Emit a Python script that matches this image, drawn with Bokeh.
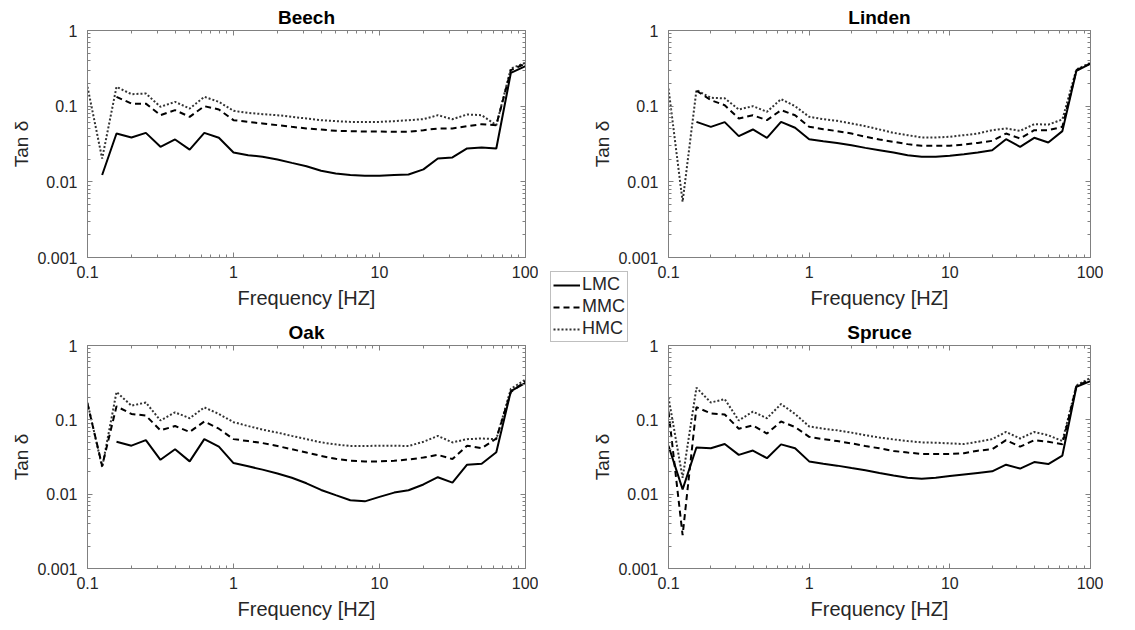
import numpy as np
from bokeh.plotting import figure
from bokeh.models import Range1d, FixedTicker, LogAxis, GridBox, Legend, LegendItem
from bokeh.embed import file_html
from bokeh.resources import INLINE

nan = float("nan")

# ---------------- data ----------------
freq = [0.1, 0.126, 0.158, 0.2, 0.251, 0.316, 0.398, 0.501, 0.631, 0.794,
        1.0, 1.26, 1.58, 2.0, 2.51, 3.16, 3.98, 5.01, 6.31, 7.94,
        10.0, 12.6, 15.8, 20.0, 25.1, 31.6, 39.8, 50.1, 63.1, 79.4, 100.0]

beech_lmc = [nan, 0.0123, 0.0435, 0.0386, 0.0444, 0.029, 0.0363, 0.0267, 0.0444, 0.0382,
             0.0244, 0.0225, 0.0214, 0.0197, 0.0178, 0.0161, 0.014, 0.0129, 0.0123, 0.012,
             0.012, 0.0123, 0.0125, 0.0146, 0.0203, 0.021, 0.0276, 0.0284, 0.0276, 0.276, 0.338]
beech_mmc = [nan, nan, 0.133, 0.108, 0.108, 0.076, 0.0886, 0.0723, 0.1, 0.0904,
             0.0653, 0.062, 0.059, 0.0561, 0.0533, 0.0507, 0.0492, 0.0472, 0.0467, 0.0463,
             0.0463, 0.0458, 0.0458, 0.0482, 0.0507, 0.0507, 0.0544, 0.0578, 0.0561, 0.299, 0.366]
beech_hmc = [0.18, 0.0203, 0.18, 0.144, 0.147, 0.098, 0.114, 0.093, 0.133, 0.114,
             0.0868, 0.0816, 0.0784, 0.076, 0.0723, 0.0687, 0.0653, 0.0634, 0.062, 0.062,
             0.062, 0.0634, 0.0653, 0.0673, 0.076, 0.0673, 0.0776, 0.076, 0.0561, 0.315, 0.374]

linden_lmc = [nan, nan, 0.062, 0.0533, 0.0615, 0.0402, 0.0492, 0.0382, 0.062, 0.0518,
              0.0366, 0.0345, 0.0327, 0.0305, 0.0281, 0.0262, 0.0244, 0.0225, 0.0214, 0.0214,
              0.0221, 0.0232, 0.0244, 0.0262, 0.0366, 0.029, 0.0382, 0.0331, 0.0468, 0.293, 0.366]
linden_mmc = [nan, nan, 0.16, 0.12, 0.103, 0.0687, 0.076, 0.0653, 0.0886, 0.076,
              0.0533, 0.0497, 0.0468, 0.0435, 0.0394, 0.0363, 0.0338, 0.0315, 0.0299, 0.0299,
              0.0299, 0.0311, 0.0327, 0.0348, 0.0435, 0.0374, 0.0482, 0.0482, 0.0533, 0.299, 0.366]
linden_hmc = [0.171, 0.00545, 0.163, 0.129, 0.127, 0.0904, 0.1, 0.0842, 0.124, 0.1,
              0.0723, 0.0673, 0.064, 0.059, 0.0544, 0.0492, 0.0444, 0.0414, 0.0386, 0.0386,
              0.0394, 0.0414, 0.0435, 0.0482, 0.0507, 0.0472, 0.0578, 0.057, 0.0667, 0.306, 0.374]

oak_lmc = [nan, nan, 0.0507, 0.0449, 0.0533, 0.029, 0.0402, 0.0276, 0.055, 0.0435,
           0.0262, 0.0237, 0.0214, 0.019, 0.0166, 0.014, 0.0114, 0.0097, 0.0083, 0.008,
           0.0092, 0.0105, 0.0113, 0.0135, 0.0169, 0.0143, 0.0249, 0.0257, 0.0366, 0.244, 0.315]
oak_mmc = [0.165, 0.024, 0.152, 0.12, 0.114, 0.0723, 0.0825, 0.0687, 0.095, 0.076,
           0.055, 0.0518, 0.0487, 0.0444, 0.0402, 0.0363, 0.0327, 0.0299, 0.0281, 0.0276,
           0.0276, 0.0281, 0.0293, 0.0311, 0.0338, 0.0297, 0.0449, 0.0414, 0.0561, 0.237, 0.331]
oak_hmc = [0.17, 0.023, 0.237, 0.155, 0.171, 0.098, 0.126, 0.105, 0.147, 0.12,
           0.093, 0.0825, 0.0738, 0.0673, 0.0608, 0.055, 0.0497, 0.0468, 0.0444, 0.0444,
           0.0449, 0.0449, 0.0444, 0.0507, 0.0608, 0.0497, 0.055, 0.0561, 0.055, 0.261, 0.348]

spruce_lmc = [0.0449, 0.0116, 0.0425, 0.0415, 0.0472, 0.0338, 0.0386, 0.0305, 0.0468, 0.0415,
              0.0276, 0.0257, 0.0242, 0.0225, 0.021, 0.0193, 0.0178, 0.0166, 0.0161, 0.0166,
              0.0175, 0.0184, 0.0193, 0.0203, 0.0249, 0.0221, 0.027, 0.0254, 0.0331, 0.279, 0.331]
spruce_mmc = [0.13, 0.0028, 0.148, 0.122, 0.118, 0.076, 0.084, 0.0653, 0.095, 0.08,
              0.059, 0.055, 0.0518, 0.0482, 0.0444, 0.0414, 0.0381, 0.0363, 0.0348, 0.0348,
              0.0348, 0.0356, 0.0385, 0.0402, 0.0533, 0.0435, 0.0533, 0.0507, 0.0468, 0.284, 0.348]
spruce_hmc = [0.2, 0.0166, 0.27, 0.171, 0.19, 0.098, 0.129, 0.105, 0.163, 0.12,
              0.0816, 0.076, 0.0723, 0.0673, 0.062, 0.0578, 0.0544, 0.0518, 0.0497, 0.0492,
              0.0482, 0.0472, 0.0507, 0.055, 0.0687, 0.0561, 0.0687, 0.062, 0.0518, 0.29, 0.366]

x_ticks = [0.1, 1, 10, 100]
x_tick_labels = ["0.1", "1", "10", "100"]
y_ticks = [0.001, 0.01, 0.1, 1]
y_tick_labels = ["0.001", "0.01", "0.1", "1"]
series_names = ["LMC", "MMC", "HMC"]
panel_titles = ["Beech", "Linden", "Oak", "Spruce"]
x_label = "Frequency [HZ]"
y_label = "Tan δ"

# ---------------- style ----------------
FONT = "Liberation Sans"
TXT = "#262626"
AX = "#808080"
STYLES = [dict(line_color="black", line_width=2),
          dict(line_color="black", line_width=2, line_dash="6 4"),
          dict(line_color="#333333", line_width=2, line_dash="2 2")]


def minors(majors):
    return [m * j for m in majors[:-1] for j in range(2, 10)]


def tick_style(ax, ticks, labels, hidden=False):
    ax.ticker = FixedTicker(ticks=ticks, minor_ticks=minors(ticks))
    ax.axis_line_color = AX
    ax.major_tick_line_color = AX
    ax.minor_tick_line_color = AX
    ax.major_tick_in = 5
    ax.major_tick_out = 0
    ax.minor_tick_in = 3
    ax.minor_tick_out = 0
    if hidden:
        ax.major_label_overrides = {t: "" for t in ticks}
        ax.major_label_text_font_size = "0px"
        ax.major_label_standoff = 0
    else:
        ax.major_label_overrides = {t: l for t, l in zip(ticks, labels)}
        ax.major_label_text_font = FONT
        ax.major_label_text_font_size = "16px"
        ax.major_label_text_color = TXT
        ax.axis_label_text_font = FONT
        ax.axis_label_text_font_style = "normal"
        ax.axis_label_text_color = TXT


def make_panel(title, series, width, height, mb_left, mb_right, mb_top, mb_bottom):
    p = figure(width=width, height=height, x_axis_type="log", y_axis_type="log",
               x_range=Range1d(0.1, 100), y_range=Range1d(0.001, 1),
               output_backend="svg", toolbar_location=None,
               min_border_left=mb_left, min_border_right=mb_right,
               min_border_top=mb_top, min_border_bottom=mb_bottom)
    p.title.text = title
    p.title.align = "center"
    p.title.vertical_align = "bottom"
    p.title.text_font = FONT
    p.title.text_font_style = "bold"
    p.title.text_font_size = "19px"
    p.title.text_color = "black"
    p.title.standoff = 6
    p.grid.visible = False
    p.outline_line_color = AX

    xa = p.xaxis[0]
    tick_style(xa, x_ticks, x_tick_labels)
    xa.major_label_standoff = 8
    xa.axis_label = x_label
    xa.axis_label_text_font_size = "20px"
    xa.axis_label_standoff = 6

    ya = p.yaxis[0]
    tick_style(ya, y_ticks, y_tick_labels)
    ya.major_label_standoff = 10
    ya.axis_label = y_label
    ya.axis_label_text_font_size = "19px"
    ya.axis_label_standoff = 2

    top = LogAxis()
    tick_style(top, x_ticks, x_tick_labels, hidden=True)
    p.add_layout(top, "above")
    right = LogAxis()
    tick_style(right, y_ticks, y_tick_labels, hidden=True)
    p.add_layout(right, "right")

    for vals, st in reversed(list(zip(series, STYLES))):
        p.line(freq, np.array(vals, dtype=float), **st)
    return p


tl = make_panel(panel_titles[0], [beech_lmc, beech_mmc, beech_hmc], 530, 322, 75, 13, 30, 65)
tr = make_panel(panel_titles[1], [linden_lmc, linden_mmc, linden_hmc], 514, 322, 75, 13, 30, 65)
bl = make_panel(panel_titles[2], [oak_lmc, oak_mmc, oak_hmc], 530, 308, 75, 13, 31, 50)
br = make_panel(panel_titles[3], [spruce_lmc, spruce_mmc, spruce_hmc], 514, 308, 75, 13, 31, 50)

# legend holder (transparent, overlapping the gap between panels)
lg = figure(width=90, height=80, output_backend="svg", toolbar_location=None,
            x_range=Range1d(0, 1), y_range=Range1d(0, 1),
            x_axis_location=None, y_axis_location=None, min_border=0)
lg.grid.visible = False
lg.outline_line_color = None
lg.background_fill_alpha = 0
lg.border_fill_alpha = 0
items = []
for name, st in zip(series_names, STYLES):
    r = lg.line(x=[5, 6], y=[5, 6], **st)   # outside the visible range: legend sample only
    items.append(LegendItem(label=name, renderers=[r]))
legend = Legend(items=items, location="top_left", margin=1, padding=2, spacing=1,
                glyph_width=27, glyph_height=20, label_height=20, label_standoff=2,
                label_text_font=FONT, label_text_font_size="18px", label_text_color=TXT,
                border_line_color=AX, border_line_width=1, background_fill_color="white",
                background_fill_alpha=1)
lg.add_layout(legend)

grid = GridBox(children=[(tl, 0, 1, 4, 1), (tr, 0, 4, 4, 3),
                         (bl, 3, 1, 4, 1), (br, 3, 4, 4, 3),
                         (lg, 2, 3, 4, 3)],
               rows=["8px", "262px", "44px", "8px", "20px", "8px", "272px"],
               cols=["8px", "530px", "11px", "40px", "40px", "10px", "464px"])

open("out.html", "w").write(file_html(grid, INLINE))
